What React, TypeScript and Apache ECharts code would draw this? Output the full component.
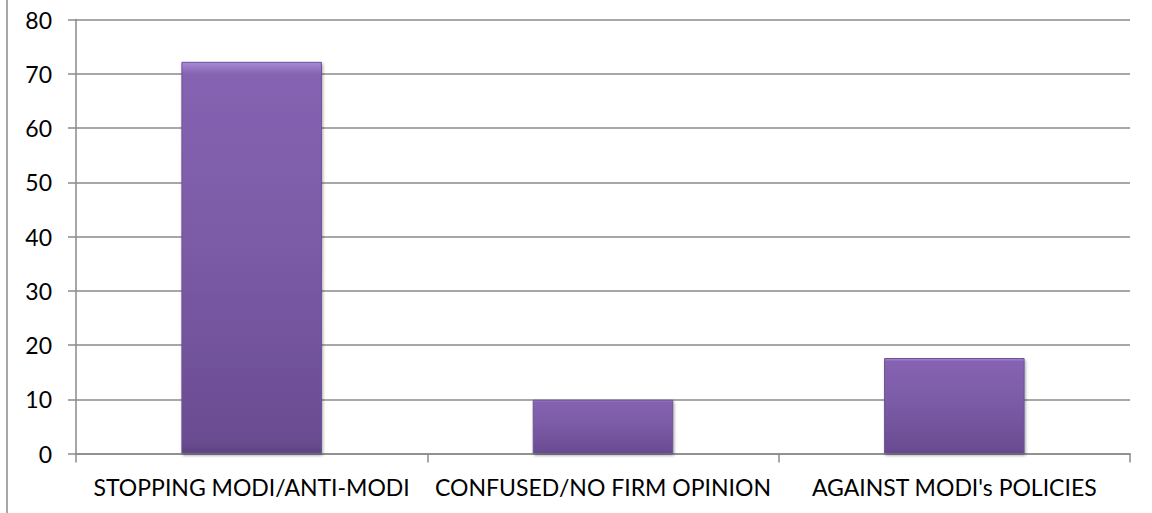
import React, { useEffect, useRef } from "react";
import * as echarts from "echarts";

const categories = ["STOPPING MODI/ANTI-MODI", "CONFUSED/NO FIRM OPINION", "AGAINST MODI's POLICIES"];
const values = [72.2, 9.9, 17.6];
const yTicks = { min: 0, max: 80, interval: 10 };

export default function App() {
  const ref = useRef<HTMLDivElement>(null);
  useEffect(() => {
    const chart = echarts.init(ref.current!, null, { renderer: "svg" });
    const font = "Lato, 'Open Sans', sans-serif";
    chart.setOption({
      animation: false,
      backgroundColor: "#ffffff",
      grid: { left: 76, right: 22, top: 19.5, bottom: 59.5, containLabel: false },
      xAxis: {
        type: "category",
        data: categories,
        boundaryGap: true,
        axisLine: { show: true, lineStyle: { color: "#8a8a8a", width: 1.5 } },
        axisTick: { show: true, alignWithLabel: false, length: 9, lineStyle: { color: "#8a8a8a", width: 1.5 } },
        axisLabel: { color: "#000000", fontSize: 23, fontFamily: font, margin: 22, interval: 0 },
      },
      yAxis: {
        type: "value",
        min: yTicks.min,
        max: yTicks.max,
        interval: yTicks.interval,
        axisLine: { show: true, lineStyle: { color: "#8a8a8a", width: 1.5 } },
        axisTick: { show: true, length: 8, lineStyle: { color: "#8a8a8a", width: 1.5 } },
        axisLabel: { color: "#000000", fontSize: 23, fontFamily: font, margin: 24 },
        splitLine: { show: true, lineStyle: { color: "#8a8a8a", width: 1.5 } },
      },
      series: [
        {
          type: "bar",
          data: values,
          barWidth: "40%",
          itemStyle: {
            color: new echarts.graphic.LinearGradient(0, 0, 0, 1, [
              { offset: 0, color: "#a88bd6" },
              { offset: 0.03, color: "#8663b2" },
              { offset: 0.5, color: "#7a5aa5" },
              { offset: 0.97, color: "#6a4c92" },
              { offset: 1, color: "#5d437f" },
            ]),
            borderColor: "#6d5296",
            borderWidth: 1,
            shadowColor: "rgba(0,0,0,0.35)",
            shadowBlur: 3,
            shadowOffsetX: 1,
            shadowOffsetY: 2,
          },
        },
      ],
      graphic: [
        {
          type: "line",
          shape: { x1: 7, y1: 0, x2: 7, y2: 513 },
          style: { stroke: "#8a8a8a", lineWidth: 1.5 },
          silent: true,
        },
      ],
    });
    return () => chart.dispose();
  }, []);
  return <div ref={ref} style={{ position: "fixed", left: 0, top: 0, width: 1152, height: 513 }} />;
}
